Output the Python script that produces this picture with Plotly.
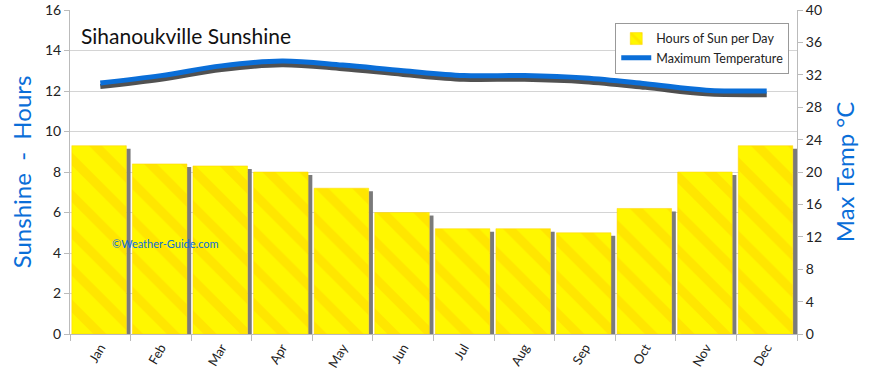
import plotly.graph_objects as go

months = ["Jan", "Feb", "Mar", "Apr", "May", "Jun", "Jul", "Aug", "Sep", "Oct", "Nov", "Dec"]
sun_hours = [9.3, 8.4, 8.3, 8.0, 7.2, 6.0, 5.2, 5.2, 5.0, 6.2, 8.0, 9.3]
max_temp = [31.0, 31.9, 33.1, 33.7, 33.2, 32.5, 31.9, 31.9, 31.6, 30.9, 30.1, 30.0]

BLUE = "#0A6ED8"
FONT = "Lato"

fig = go.Figure()

# bar shadows
fig.add_trace(go.Bar(
    x=months, y=[v - 0.15 for v in sun_hours], offset=0.43, width=0.07,
    marker=dict(color="#7a7a7a", line=dict(width=0)), showlegend=False, hoverinfo="skip"))
# sunshine bars
fig.add_trace(go.Bar(
    x=months, y=sun_hours, offset=-0.47, width=0.9, name="Hours of Sun per Day",
    marker=dict(color="#FFF700", line=dict(color="#FFD200", width=0.5),
                pattern=dict(shape="\\", fgcolor="#FFC400", fgopacity=0.35,
                             size=26, solidity=0.35))))

# temperature line shadow
fig.add_trace(go.Scatter(
    x=months, y=[t - 0.45 for t in max_temp], yaxis="y2", mode="lines",
    line=dict(color="#333333", width=5, shape="spline", smoothing=1.0),
    opacity=0.85, showlegend=False, hoverinfo="skip"))
fig.add_trace(go.Scatter(
    x=months, y=max_temp, yaxis="y2", mode="lines", name="Maximum Temperature",
    line=dict(color=BLUE, width=5, shape="spline", smoothing=1.0)))

fig.update_layout(
    width=870, height=374,
    margin=dict(l=70, r=73, t=10, b=40, autoexpand=False),
    paper_bgcolor="white", plot_bgcolor="white",
    barmode="overlay",
    font=dict(family=FONT, color="#222222", size=13),
    xaxis=dict(
        type="category", tickangle=-60, tickson="boundaries", ticks="outside", ticklen=6,
        tickcolor="#bbbbbb", showgrid=False, showline=True, linecolor="#bbbbbb",
        tickfont=dict(size=13), range=[-0.5, 11.5], automargin=False),
    yaxis=dict(
        range=[0, 16], dtick=2, showgrid=True, gridcolor="#d4d4d4", ticks="outside",
        ticklen=5, tickcolor="#bbbbbb", showline=True, linecolor="#bbbbbb",
        tickfont=dict(size=14), zeroline=False, automargin=False,
        title=dict(text="Sunshine  -  Hours", font=dict(size=24, color=BLUE), standoff=6)),
    yaxis2=dict(
        range=[0, 40], dtick=4, overlaying="y", side="right", showgrid=False,
        ticks="outside", ticklen=5, tickcolor="#bbbbbb", showline=True, linecolor="#bbbbbb",
        tickfont=dict(size=14), zeroline=False, automargin=False,
        title=dict(text="Max Temp °C", font=dict(size=24, color=BLUE), standoff=16)),
    legend=dict(
        x=0.75, y=0.96, xanchor="left", yanchor="top",
        bgcolor="white", bordercolor="#999999", borderwidth=1,
        font=dict(size=12.5), tracegroupgap=0),
    annotations=[
        dict(text="Sihanoukville Sunshine", xref="paper", yref="paper", x=0.012, y=0.965,
             xanchor="left", yanchor="top", showarrow=False, font=dict(size=21, color="#111111")),
        dict(text="©Weather-Guide.com", xref="paper", yref="paper", x=0.055, y=0.28,
             xanchor="left", yanchor="middle", showarrow=False, font=dict(size=11, color=BLUE)),
    ],
)

fig.write_html("out.html", config={"displayModeBar": False},
               post_script="document.body.style.margin='0';")
